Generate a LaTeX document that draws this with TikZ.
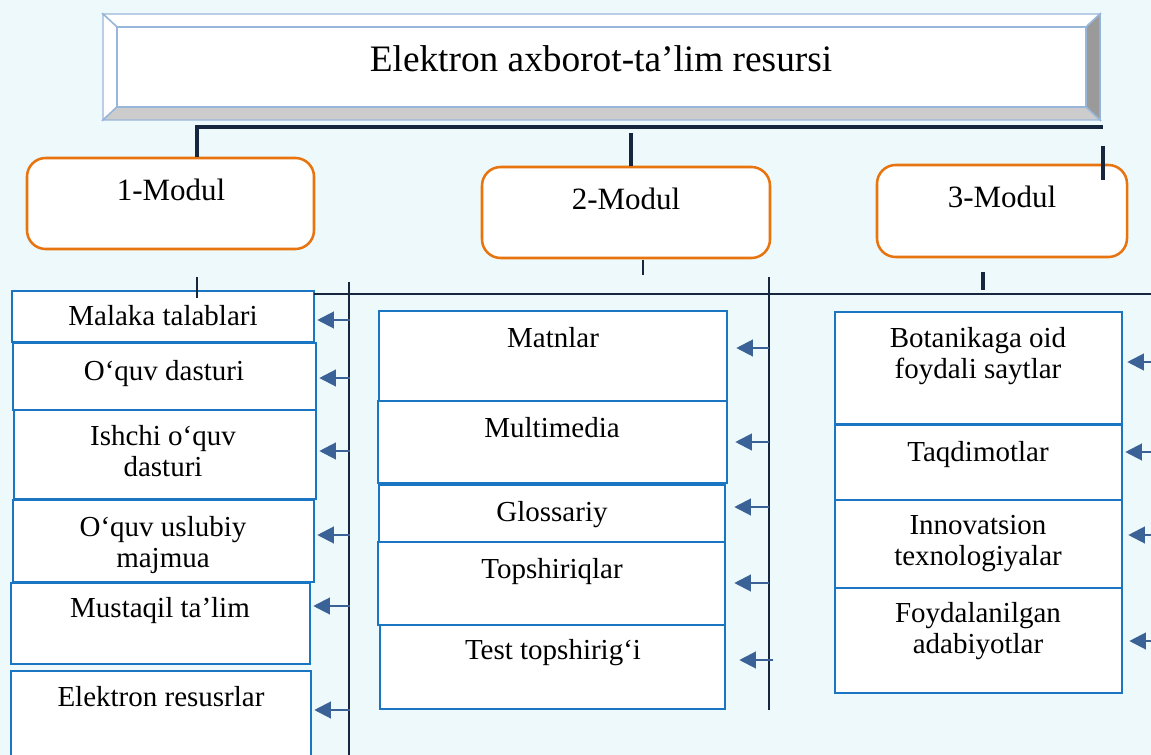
\documentclass[tikz,border=0pt]{standalone}
\usepackage{fontspec}
\setmainfont{Liberation Serif}
\usetikzlibrary{arrows.meta,fit,calc}
\definecolor{bg}{HTML}{EEF9FC}
\definecolor{navy}{HTML}{17263F}
\definecolor{obox}{HTML}{E8740F}
\definecolor{bbox}{HTML}{1A75C2}
\definecolor{arr}{HTML}{3A6296}
\definecolor{tbord}{HTML}{98B6DA}
\definecolor{bevR}{HTML}{9A9A9A}
\definecolor{bevB}{HTML}{CCCCCC}
\begin{document}
\begin{tikzpicture}[x=0.75pt,y=-0.75pt,
  box/.style={draw=bbox, line width=1.9pt, fill=white, inner sep=0pt},
  modbox/.style={draw=obox, line width=1.9pt, fill=white, rounded corners=14pt, inner sep=0pt},
  txt/.style={font=\fontsize{21.75}{23.25}\selectfont, align=center, anchor=base, inner sep=0pt},
  modtxt/.style={font=\fontsize{23.25}{26}\selectfont, anchor=base, inner sep=0pt},
  ttxt/.style={font=\fontsize{28}{32}\selectfont, anchor=base, inner sep=0pt},
  bevel/.style={draw=tbord, line width=1.1pt, line join=miter},
  busline/.style={draw=navy, line width=1.9pt},
  topline/.style={draw=navy, line width=3pt},
  feed/.style={draw=arr, line width=1.6pt, -{Triangle[length=12.5pt,width=12.5pt]}}]
\useasboundingbox (0,0) rectangle (1151,755);
\clip (0,0) rectangle (1151,755);
\fill[bg] (0,0) rectangle (1151,755);
% title bevel
\filldraw[bevel, fill=white] (103,14) -- (1100,14) -- (1086,27) -- (117,27) -- cycle;
\filldraw[bevel, fill=white] (103,14) -- (117,27) -- (117,107) -- (103,120) -- cycle;
\filldraw[bevel, fill=bevR] (1100,14) -- (1100,120) -- (1086,107) -- (1086,27) -- cycle;
\filldraw[bevel, fill=bevB] (103,120) -- (1100,120) -- (1086,107) -- (117,107) -- cycle;
\node[bevel, fill=white, fit={(117,27)(1086,107)}, inner sep=0pt] (title) {};
\node[ttxt] (ttl) at (601,72) {Elektron axborot-ta’lim resursi};
% modules
\node[modbox, fit={(27,158)(314,249)}] (m1) {};
\node[modbox, fit={(482,167)(770,258)}] (m2) {};
\node[modbox, fit={(877,165)(1127,257)}] (m3) {};
\node[modtxt] (m1t) at (171,201) {1-Modul};
\node[modtxt] (m2t) at (626,210) {2-Modul};
\node[modtxt] (m3t) at (1002,208) {3-Modul};
% top connectors
\coordinate (hL) at (197,127);
\coordinate (hR) at (1103,127);
\draw[topline] (hL |- m1.north) -- (hL) -- (hR);
\coordinate (t2) at (631,133);
\draw[topline] (t2) -- (t2 |- m2.north);
\coordinate (t3a) at (1103,146);
\coordinate (t3b) at (1103,180);
\draw[topline] (t3a) -- (t3b);
% column 1 boxes
\node[box, fit={(12,291)(314,342)}] (c1a) {};
\node[box, fit={(13,343)(316,410)}] (c1b) {};
\node[box, fit={(14,410)(316,499)}] (c1c) {};
\node[box, fit={(13,500)(314,582)}] (c1d) {};
\node[box, fit={(11,583)(310,664)}] (c1e) {};
\node[box, fit={(11,671)(311,775)}] (c1f) {};
% column 2 boxes
\node[box, fit={(379,311)(727,401)}] (c2a) {};
\node[box, fit={(378,401)(727,483)}] (c2b) {};
\node[box, fit={(379,485)(725,542)}] (c2c) {};
\node[box, fit={(378,542)(725,625)}] (c2d) {};
\node[box, fit={(380,625)(725,709)}] (c2e) {};
% column 3 boxes
\node[box, fit={(835,312)(1122,424)}] (c3a) {};
\node[box, fit={(835,425)(1122,500)}] (c3b) {};
\node[box, fit={(835,500)(1122,588)}] (c3c) {};
\node[box, fit={(835,588)(1122,693)}] (c3d) {};
% texts (base = baseline of last line)
\node[txt] (x1a) at (163,325) {Malaka talablari};
\node[txt] (x1b) at (164,380) {O‘quv dasturi};
\node[txt] (x1c) at (163,476) {Ishchi o‘quv\\dasturi};
\node[txt] (x1d) at (163,567) {O‘quv uslubiy\\majmua};
\node[txt] (x1e) at (160,617) {Mustaqil ta’lim};
\node[txt] (x1f) at (161,706) {Elektron resusrlar};
\node[txt] (x2a) at (553,347) {Matnlar};
\node[txt] (x2b) at (552,437) {Multimedia};
\node[txt] (x2c) at (552,521) {Glossariy};
\node[txt] (x2d) at (552,578) {Topshiriqlar};
\node[txt] (x2e) at (553,659) {Test topshirig‘i};
\node[txt] (x3a) at (978,378) {Botanikaga oid\\foydali saytlar};
\node[txt] (x3b) at (978,461) {Taqdimotlar};
\node[txt] (x3c) at (978,565) {Innovatsion\\texnologiyalar};
\node[txt] (x3d) at (978,653) {Foydalanilgan\\adabiyotlar};
% ticks under modules
\coordinate (k1a) at (197,277); \coordinate (k1b) at (197,298);
\draw[busline] (k1a) -- (k1b);
\coordinate (k2a) at (643,260); \coordinate (k2b) at (643,275);
\draw[busline] (k2a) -- (k2b);
\coordinate (k3a) at (983,272); \coordinate (k3b) at (983,290);
\draw[topline] (k3a) -- (k3b);
% buses
\coordinate (hb1) at (314,294); \coordinate (hb2) at (1151,294);
\draw[busline] (hb1) -- (hb2);
\coordinate (b1t) at (349,282); \coordinate (b1b) at (349,760);
\draw[busline] (b1t) -- (b1b);
\coordinate (b2t) at (769,277); \coordinate (b2b) at (769,710);
\draw[busline] (b2t) -- (b2b);
% arrows
\foreach \y/\n in {320/c1a,378/c1b,451/c1c,535/c1d,606/c1e,710/c1f}{
  \coordinate (s) at (350,\y);
  \draw[feed] (s) -- ($(s -| \n.east)+(2,0)$);
}
\foreach \y/\n/\o in {348/c2a/8,442/c2b/7,507/c2c/8,583/c2d/8}{
  \coordinate (s) at (769,\y);
  \draw[feed] (s) -- ($(s -| \n.east)+(\o,0)$);
}
\coordinate (s) at (773,660);
\draw[feed] (s) -- ($(s -| c2e.east)+(13,0)$);
\foreach \y/\n/\o in {362/c3a/4,452/c3b/2,535/c3c/5,641/c3d/6}{
  \coordinate (s) at (1153,\y);
  \draw[feed] (s) -- ($(s -| \n.east)+(\o,0)$);
}
\end{tikzpicture}
\end{document}
